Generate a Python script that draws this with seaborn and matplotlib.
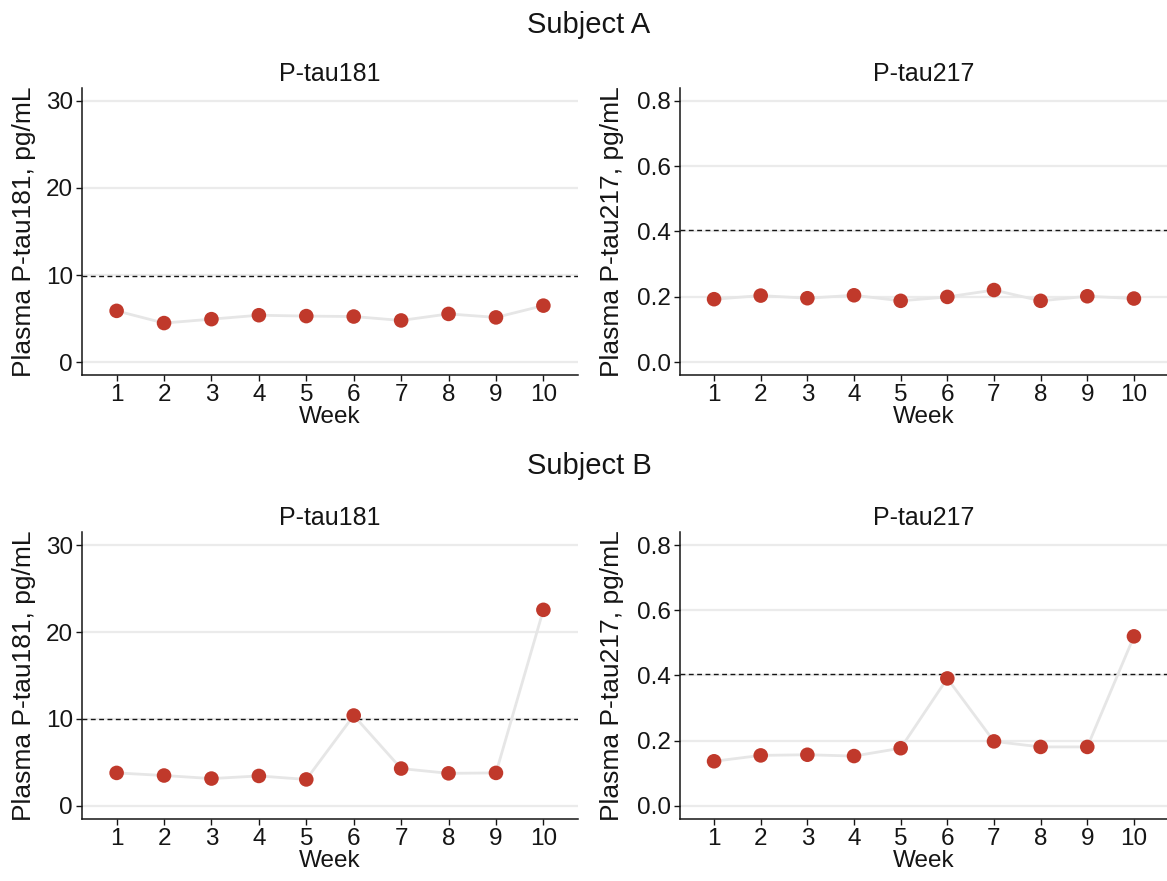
"""Weekly plasma p-tau trajectories for two subjects."""
import matplotlib.pyplot as plt
import pandas as pd
import seaborn as sns

weeks = list(range(1, 11))
subjects = ["Subject A", "Subject B"]
markers = ["P-tau181", "P-tau217"]

a_ptau181 = [5.9, 4.5, 4.95, 5.4, 5.3, 5.25, 4.8, 5.55, 5.15, 6.5]
a_ptau217 = [0.193, 0.204, 0.196, 0.205, 0.188, 0.200, 0.221, 0.188, 0.202, 0.195]
b_ptau181 = [3.8, 3.5, 3.15, 3.45, 3.05, 10.4, 4.3, 3.75, 3.8, 22.55]
b_ptau217 = [0.137, 0.155, 0.157, 0.153, 0.177, 0.391, 0.198, 0.181, 0.181, 0.52]

cutoffs = {"P-tau181": 9.95, "P-tau217": 0.405}
y_limits = {"P-tau181": (-1.5, 31.5), "P-tau217": (-0.04, 0.84)}
y_ticks = {"P-tau181": [0, 10, 20, 30], "P-tau217": [0.0, 0.2, 0.4, 0.6, 0.8]}
y_fmt = {"P-tau181": "{:.0f}", "P-tau217": "{:.1f}"}

values = {
    ("Subject A", "P-tau181"): a_ptau181,
    ("Subject A", "P-tau217"): a_ptau217,
    ("Subject B", "P-tau181"): b_ptau181,
    ("Subject B", "P-tau217"): b_ptau217,
}
df = pd.concat(
    [pd.DataFrame({"Subject": s, "Marker": m, "Week": weeks, "Value": v}) for (s, m), v in values.items()],
    ignore_index=True,
)

sns.set_theme(style="white")
plt.rcParams["font.family"] = ["Liberation Sans", "DejaVu Sans"]

POINT = "#c0392b"
LINE = "#e6e6e6"
GRID = "#ebebeb"
INK = "#151515"

fig = plt.figure(figsize=(11.67, 8.81), dpi=100)
W, H = 1167, 881
# axes boxes in pixels: left, top, right, bottom
boxes = {
    ("Subject A", "P-tau181"): (82, 87.6, 578, 375.4),
    ("Subject A", "P-tau217"): (680, 87.6, 1168, 375.4),
    ("Subject B", "P-tau181"): (82, 532, 578, 819),
    ("Subject B", "P-tau217"): (680, 532, 1168, 819),
}

for (subj, mk), (l, t, r, b) in boxes.items():
    ax = fig.add_axes([l / W, 1 - b / H, (r - l) / W, (b - t) / H])
    sub = df[(df["Subject"] == subj) & (df["Marker"] == mk)]
    for yv in y_ticks[mk]:
        ax.axhline(yv, color=GRID, lw=1.6, zorder=0)
    ax.axhline(cutoffs[mk], color=INK, lw=1.0, ls=(0, (3.5, 2.5)), zorder=1)
    sns.lineplot(data=sub, x="Week", y="Value", color=LINE, lw=2.0, ax=ax, zorder=2)
    sns.scatterplot(data=sub, x="Week", y="Value", color=POINT, s=110, edgecolor="none", ax=ax, zorder=3)

    ax.set_xlim(0.27, 10.73)
    ax.set_ylim(*y_limits[mk])
    ax.set_xticks(weeks)
    ax.set_yticks(y_ticks[mk])
    ax.set_yticklabels([y_fmt[mk].format(v) for v in y_ticks[mk]])
    ax.tick_params(axis="both", which="major", labelsize=17.5, colors=INK, length=4.5, width=1,
                   direction="out", left=True, bottom=True, pad=2)
    for side in ["top", "right"]:
        ax.spines[side].set_visible(False)
    for side in ["left", "bottom"]:
        ax.spines[side].set_color(INK)
        ax.spines[side].set_linewidth(1.1)
    ax.set_title(mk, fontsize=18, color=INK, pad=5)
    ax.set_xlabel("Week", fontsize=17.5, color=INK, labelpad=0)
    ax.set_ylabel(f"Plasma {mk}, pg/mL", fontsize=19, color=INK)
    if mk == "P-tau181":
        ax.yaxis.set_label_coords(-0.092, 0.5)
    else:
        ax.yaxis.set_label_coords(-0.114, 0.5)

fig.text(589 / W, 1 - 25 / H, "Subject A", ha="center", va="center", fontsize=21, color=INK)
fig.text(589 / W, 1 - 466 / H, "Subject B", ha="center", va="center", fontsize=21, color=INK)

fig.savefig("out.png", dpi=100)
